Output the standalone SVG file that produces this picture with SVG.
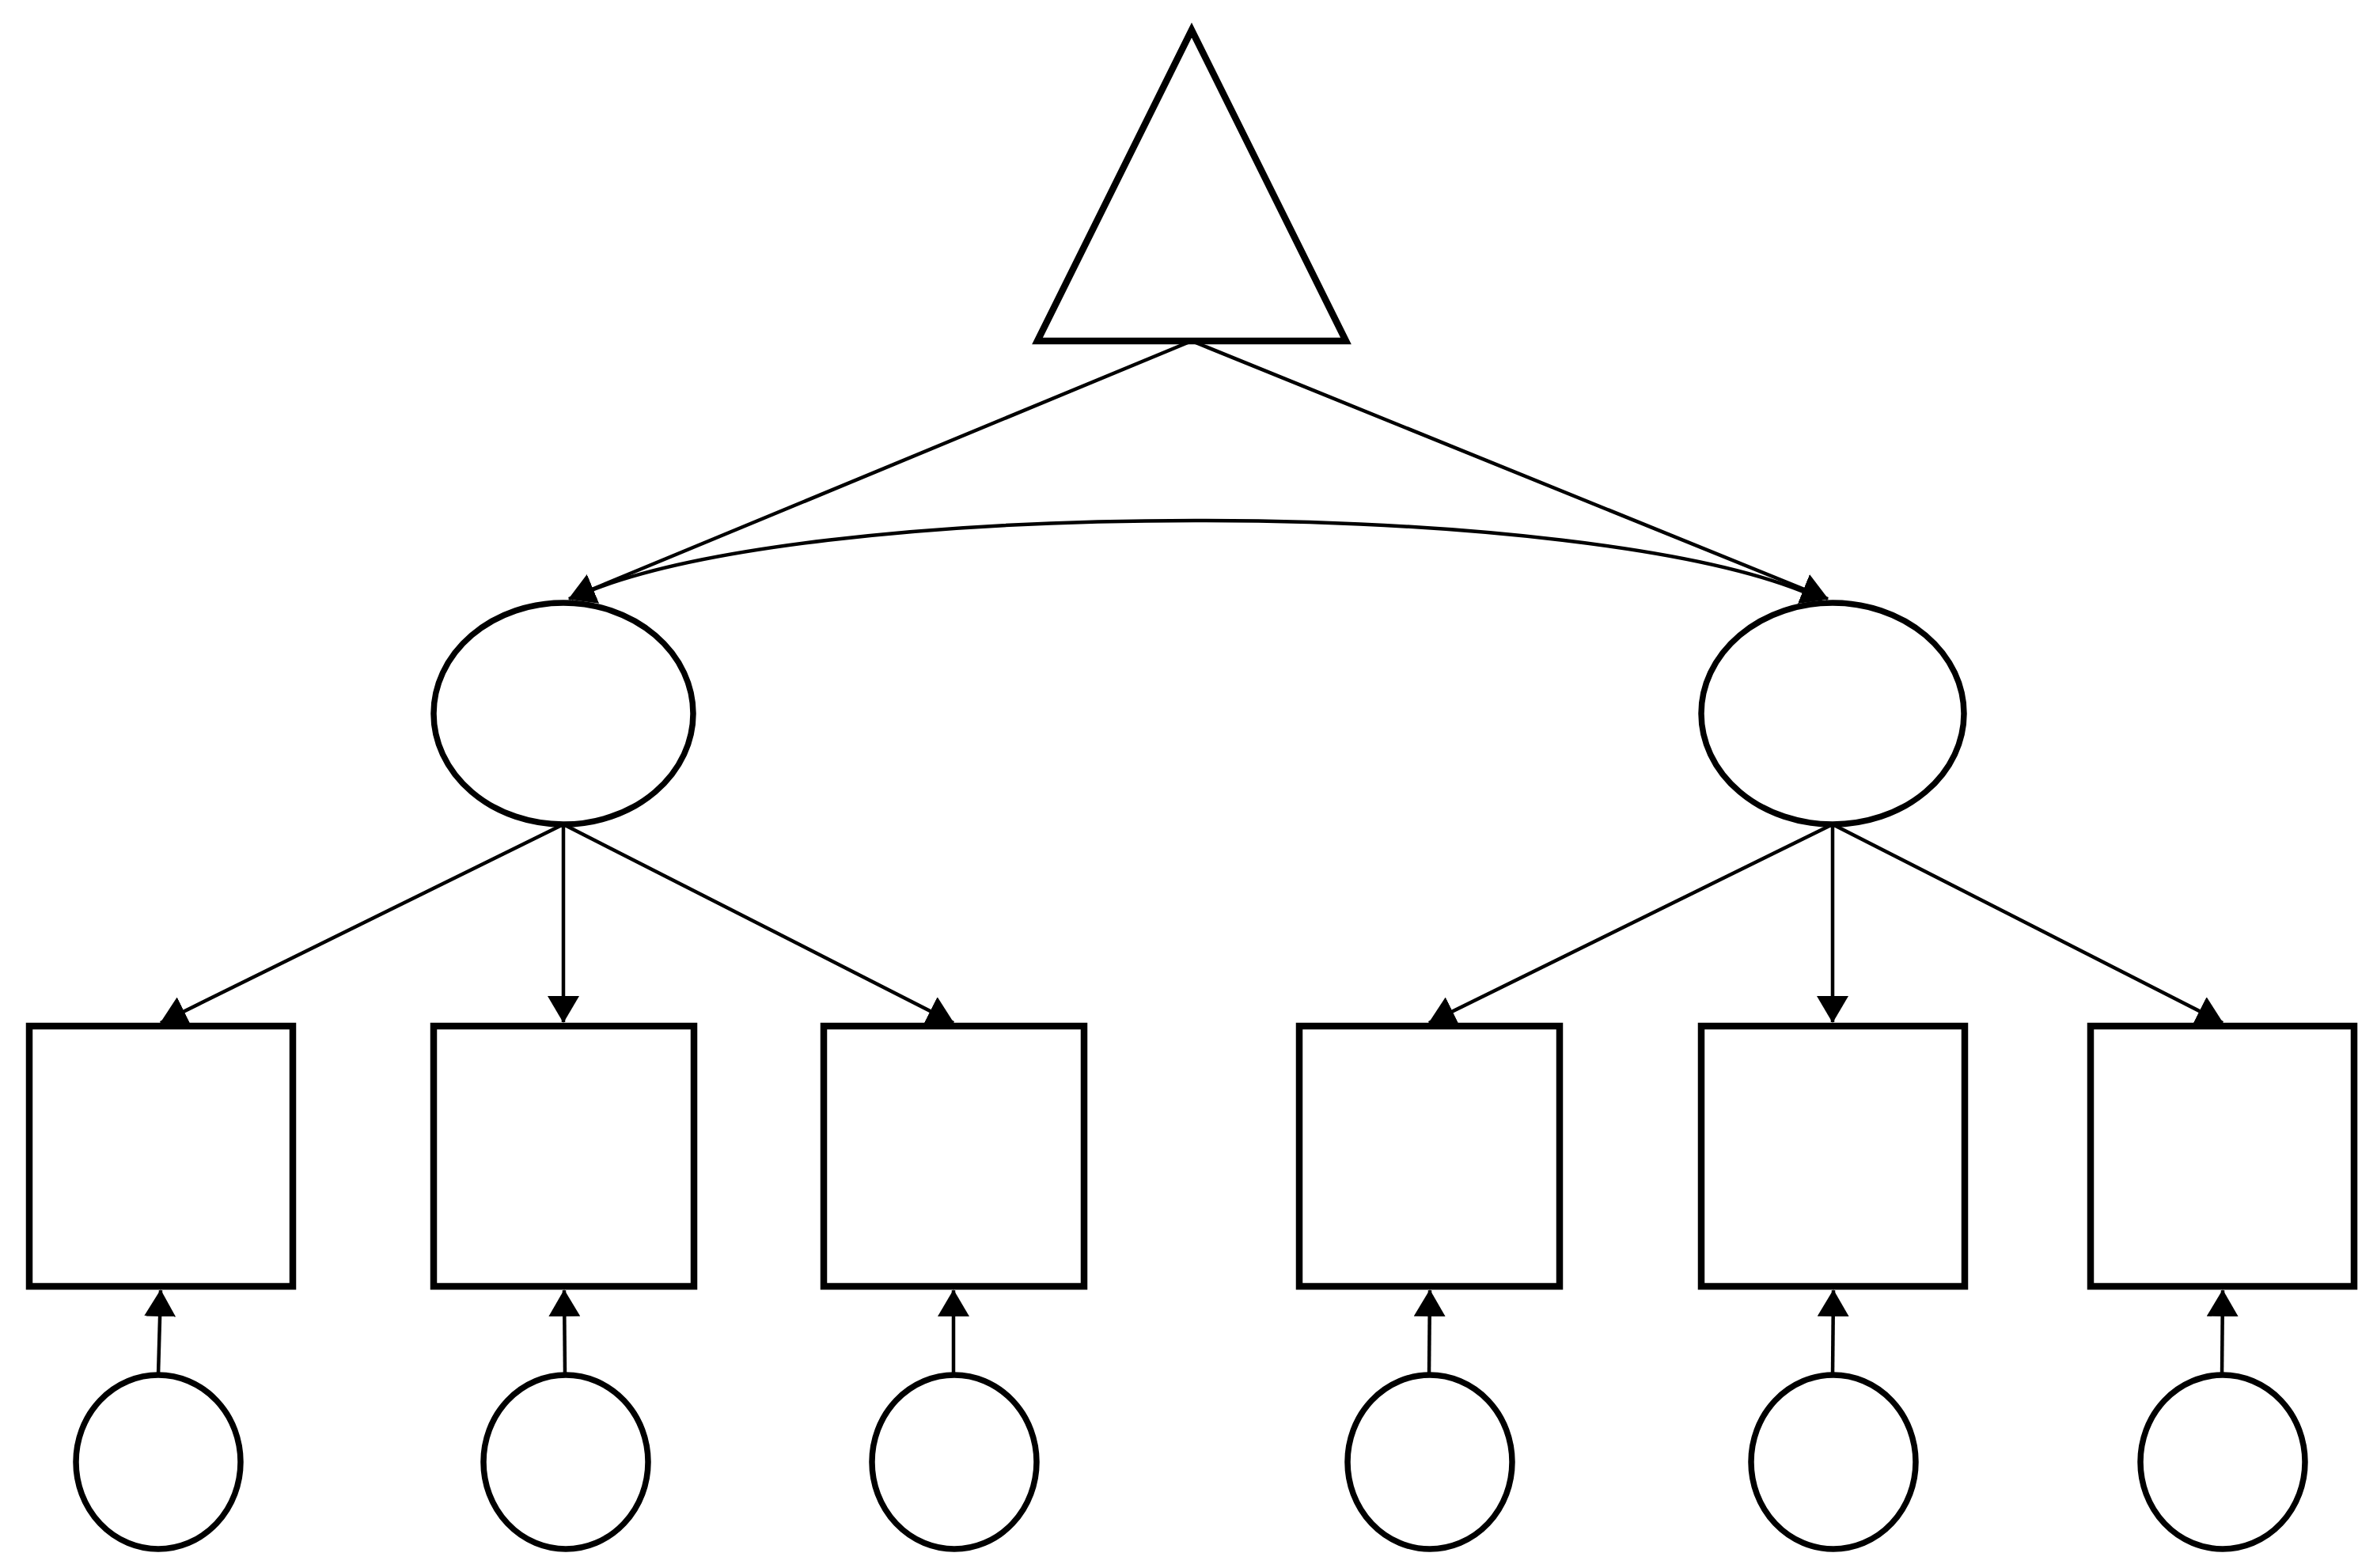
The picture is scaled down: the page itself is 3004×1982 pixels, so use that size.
<svg xmlns="http://www.w3.org/2000/svg" width="3004" height="1982" viewBox="0 0 3004 1982">
<defs>
<style>
.node{fill:#fff;stroke:#000;stroke-width:8.5;stroke-linejoin:miter}
.oval{fill:#fff;stroke:#000;stroke-width:7.5}
.edge{fill:none;stroke:#000;stroke-width:4.5}
.arr{marker-end:url(#ah)}
</style>
<marker id="ah" markerUnits="userSpaceOnUse" viewBox="0 0 34 40" markerWidth="34" markerHeight="40" refX="33" refY="20" orient="auto">
<path d="M0,0 L34,20 L0,40 z" fill="#000"/>
</marker>
</defs>
<rect width="3004" height="1982" fill="#fff"/>
<g id="connectors">
<path class="edge" d="M722,757 C1000,625 2020,625 2300,757 L2305,782"/>
<line class="edge arr" x1="1506" y1="431" x2="719" y2="757"/>
<line class="edge arr" x1="1506" y1="431" x2="2310" y2="757"/>
<line class="edge arr" x1="712" y1="1042" x2="203" y2="1293"/>
<line class="edge arr" x1="712" y1="1042" x2="712" y2="1292"/>
<line class="edge arr" x1="712" y1="1042" x2="1205" y2="1293"/>
<line class="edge arr" x1="2316" y1="1042" x2="1806" y2="1293"/>
<line class="edge arr" x1="2316" y1="1042" x2="2316" y2="1292"/>
<line class="edge arr" x1="2316" y1="1042" x2="2809" y2="1293"/>
<line class="edge arr" x1="200" y1="1738" x2="203" y2="1631"/>
<line class="edge arr" x1="714" y1="1738" x2="713" y2="1631"/>
<line class="edge arr" x1="1205" y1="1738" x2="1205" y2="1631"/>
<line class="edge arr" x1="1806" y1="1738" x2="1807" y2="1631"/>
<line class="edge arr" x1="2316" y1="1738" x2="2317" y2="1631"/>
<line class="edge arr" x1="2808" y1="1738" x2="2809" y2="1631"/>
</g>
<g id="mean"><polygon class="node" points="1506,38 1311,431 1701,431"/></g>
<g id="factor1"><ellipse class="oval" cx="712" cy="902" rx="164" ry="140"/></g>
<g id="factor2"><ellipse class="oval" cx="2316" cy="902" rx="166" ry="140"/></g>
<g id="item1"><rect class="node" x="37" y="1297" width="333" height="329"/></g>
<g id="item2"><rect class="node" x="548" y="1297" width="329" height="329"/></g>
<g id="item3"><rect class="node" x="1041" y="1297" width="329" height="329"/></g>
<g id="item4"><rect class="node" x="1642" y="1297" width="329" height="329"/></g>
<g id="item5"><rect class="node" x="2150" y="1297" width="333" height="329"/></g>
<g id="item6"><rect class="node" x="2642" y="1297" width="333" height="329"/></g>
<g id="err1"><ellipse class="oval" cx="200" cy="1848" rx="104" ry="110"/></g>
<g id="err2"><ellipse class="oval" cx="715" cy="1848" rx="104" ry="110"/></g>
<g id="err3"><ellipse class="oval" cx="1206" cy="1848" rx="104" ry="110"/></g>
<g id="err4"><ellipse class="oval" cx="1807" cy="1848" rx="104" ry="110"/></g>
<g id="err5"><ellipse class="oval" cx="2317" cy="1848" rx="104" ry="110"/></g>
<g id="err6"><ellipse class="oval" cx="2809" cy="1848" rx="104" ry="110"/></g>
</svg>
